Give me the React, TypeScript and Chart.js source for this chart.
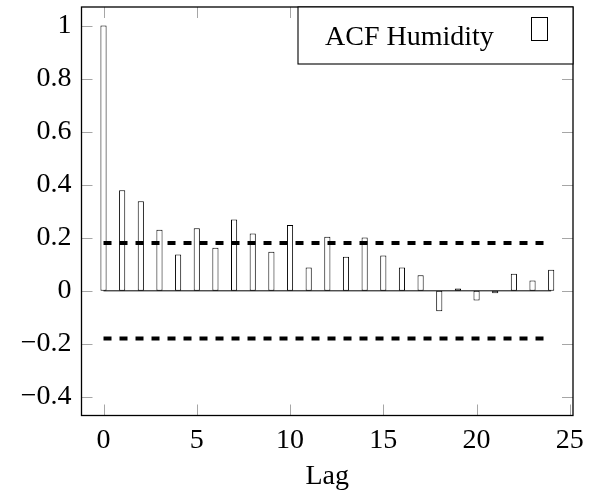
import React, { useEffect, useRef } from "react";
import { Chart, registerables } from "chart.js";

Chart.register(...registerables);

// ---- data ----
const lags = [0, 1, 2, 3, 4, 5, 6, 7, 8, 9, 10, 11, 12, 13, 14, 15, 16, 17, 18, 19, 20, 21, 22, 23, 24];
const acfValues = [
  1.0, 0.379, 0.338, 0.23, 0.137, 0.236, 0.162, 0.269, 0.216, 0.147, 0.248, 0.088, 0.204,
  0.128, 0.201, 0.133, 0.088, 0.059, -0.077, 0.009, -0.036, -0.009, 0.064, 0.039, 0.079,
];
const upperBound = [0.18, 0.18];
const lowerBound = [-0.18, -0.18];
const boundLags = [0, 24];
const xTickValues = [0, 5, 10, 15, 20, 25];
const yTickValues = [-0.4, -0.2, 0, 0.2, 0.4, 0.6, 0.8, 1];
const legendLabel = "ACF Humidity";
const xAxisTitle = "Lag";

const FONT = "'Liberation Serif', 'Times New Roman', serif";
const FONT_SIZE = 28;

function fmtY(v: number): string {
  const r = Math.round(v * 10) / 10;
  if (r === 0) return "0";
  const s = String(Math.abs(r));
  return r < 0 ? "\u2212" + s : s;
}

const framePlugin = {
  id: "pgfFrame",
  afterDraw(chart: any) {
    const ctx = chart.ctx;
    const { left, right, top, bottom } = chart.chartArea;
    const xs = chart.scales.x;
    const ys = chart.scales.y;
    const tl = 11;
    ctx.save();
    // inner tick marks
    ctx.strokeStyle = "#a6a6a6";
    ctx.lineWidth = 1;
    ctx.beginPath();
    xTickValues.forEach((v) => {
      const px = Math.round(xs.getPixelForValue(v)) + 0.5;
      ctx.moveTo(px, bottom);
      ctx.lineTo(px, bottom - tl);
      ctx.moveTo(px, top);
      ctx.lineTo(px, top + tl);
    });
    yTickValues.forEach((v) => {
      const py = Math.round(ys.getPixelForValue(v)) + 0.5;
      ctx.moveTo(left, py);
      ctx.lineTo(left + tl, py);
      ctx.moveTo(right, py);
      ctx.lineTo(right - tl, py);
    });
    ctx.stroke();
    // frame
    ctx.strokeStyle = "#000";
    ctx.lineWidth = 1.3;
    ctx.strokeRect(left, top, right - left, bottom - top);
    // legend
    const boxL = right - 275;
    const boxB = top + 57;
    ctx.fillStyle = "#fff";
    ctx.fillRect(boxL, top, right - boxL, boxB - top);
    ctx.strokeStyle = "#000";
    ctx.lineWidth = 1.1;
    ctx.strokeRect(boxL, top, right - boxL, boxB - top);
    ctx.fillStyle = "#000";
    ctx.font = `${FONT_SIZE}px ${FONT}`;
    ctx.textBaseline = "alphabetic";
    ctx.textAlign = "left";
    ctx.fillText(legendLabel, boxL + 27, top + 38);
    ctx.lineWidth = 1;
    ctx.strokeRect(right - 42 + 0.5, top + 10 + 0.5, 16, 23);
    ctx.restore();
  },
};

export default function App() {
  const canvasRef = useRef<HTMLCanvasElement | null>(null);

  useEffect(() => {
    document.body.style.margin = "0";
    const canvas = canvasRef.current;
    if (!canvas) return;
    const chart = new Chart(canvas, {
      type: "bar",
      data: {
        datasets: [
          {
            type: "line",
            label: "upper",
            data: boundLags.map((x, i) => ({ x, y: upperBound[i] })),
            borderColor: "#000",
            borderWidth: 4,
            borderDash: [8, 8],
            pointRadius: 0,
            fill: false,
            order: 0,
          } as any,
          {
            type: "line",
            label: "lower",
            data: boundLags.map((x, i) => ({ x, y: lowerBound[i] })),
            borderColor: "#000",
            borderWidth: 4,
            borderDash: [8, 8],
            pointRadius: 0,
            fill: false,
            order: 0,
          } as any,
          {
            type: "line",
            label: "zero",
            data: boundLags.map((x) => ({ x, y: 0 })),
            borderColor: "#000",
            borderWidth: 1,
            pointRadius: 0,
            fill: false,
            order: 1,
          } as any,
          {
            type: "bar",
            label: legendLabel,
            data: lags.map((x, i) => ({ x, y: acfValues[i] })),
            backgroundColor: "#fff",
            borderColor: "#000",
            borderWidth: 1,
            borderSkipped: false,
            barPercentage: 0.33,
            categoryPercentage: 1,
            order: 2,
          } as any,
        ],
      },
      options: {
        responsive: false,
        animation: false,
        layout: { padding: { top: 7, right: 18, left: 0, bottom: 0 } },
        plugins: { legend: { display: false }, tooltip: { enabled: false } },
        scales: {
          x: {
            type: "linear",
            min: -1.18,
            max: 25.17,
            offset: false,
            grid: { display: false, drawTicks: false },
            border: { display: false },
            ticks: {
              color: "#000",
              padding: 8,
              font: { family: FONT, size: FONT_SIZE },
              autoSkip: false,
              maxRotation: 0,
              callback: (v: any) => String(v),
            },
            afterBuildTicks: (s: any) => {
              s.ticks = xTickValues.map((v) => ({ value: v }));
            },
            afterFit: (s: any) => {
              s.height = 77.5;
              s.paddingLeft = 0;
              s.paddingRight = 0;
            },
            title: {
              display: true,
              text: xAxisTitle,
              color: "#000",
              font: { family: FONT, size: FONT_SIZE },
              padding: { top: 0, bottom: 0 },
            },
          },
          y: {
            type: "linear",
            min: -0.47,
            max: 1.07,
            grid: { display: false, drawTicks: false },
            border: { display: false },
            ticks: {
              color: "#000",
              padding: 10,
              font: { family: FONT, size: FONT_SIZE },
              autoSkip: false,
              callback: (v: any) => fmtY(Number(v)),
            },
            afterBuildTicks: (s: any) => {
              s.ticks = yTickValues.map((v) => ({ value: v }));
            },
            afterFit: (s: any) => {
              s.width = 81.5;
              s.paddingTop = 0;
              s.paddingBottom = 0;
            },
          },
        },
      },
      plugins: [framePlugin],
    });
    return () => chart.destroy();
  }, []);

  return (
    <div style={{ width: 591, height: 493, background: "#fff" }}>
      <canvas ref={canvasRef} width={591} height={493} style={{ display: "block" }} />
    </div>
  );
}
